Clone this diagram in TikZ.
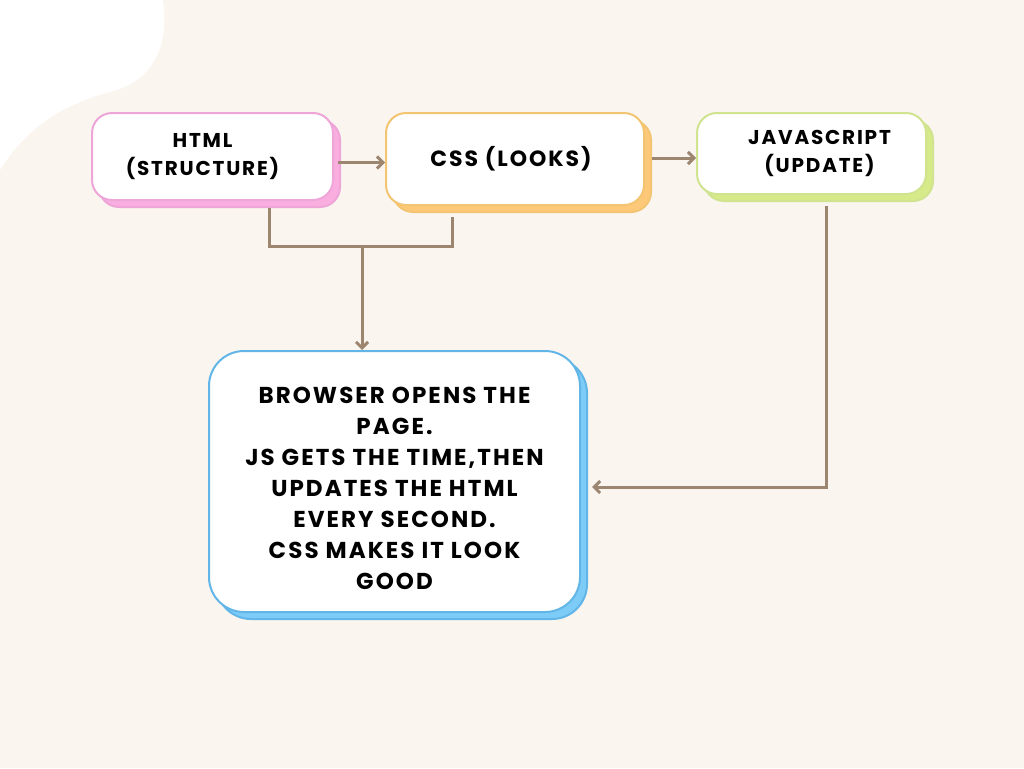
\documentclass[tikz,border=0pt]{standalone}
\usepackage{fontspec}
\usepackage{xcolor}
\usepackage{tikz}
\usetikzlibrary{positioning,calc,shadows,arrows.meta}
\newfontfamily\boxfont{Poppins}[LetterSpace=9]

\definecolor{bgcream}{HTML}{FAF5EF}
\definecolor{linkbrown}{HTML}{9C8670}
\definecolor{htmlpink}{HTML}{EEA6D8}
\definecolor{htmlshade}{HTML}{F9AEDF}
\definecolor{cssorange}{HTML}{F3C572}
\definecolor{cssshade}{HTML}{FDC979}
\definecolor{jsgreen}{HTML}{D0E38F}
\definecolor{jsshade}{HTML}{D6EA8A}
\definecolor{browserblue}{HTML}{62B6E7}
\definecolor{browsershade}{HTML}{7DCCF8}

\begin{document}
\begin{tikzpicture}[x=1pt,y=-1pt,
    box/.style 2 args={draw=#1, line width=2pt, fill=white, rounded corners=20pt,
        align=center, inner sep=0pt,
        drop shadow={shadow xshift=7pt, shadow yshift=-7pt, fill=#2, draw=#1, opacity=1},
        font={\boxfont\bfseries\fontsize{20}{28}\selectfont}},
    link/.style={draw=linkbrown, line width=3pt, -{Straight Barb[length=6pt,width=12pt]}},
    plainlink/.style={draw=linkbrown, line width=3pt}]
    \useasboundingbox (0,0) rectangle (1024,768);

    % background and white blob
    \fill[bgcream] (0,0) rectangle (1024,768);
    \fill[white] (0,0) -- (163,0) .. controls (170,50) and (150,82) .. (110,92)
        .. controls (60,105) and (25,130) .. (0,170) -- cycle;

    % top row
    \node[box={htmlpink}{htmlshade}, minimum width=241pt, minimum height=87pt]
        (html) at (212.5,156.5) {HTML\hspace*{20pt}\\(STRUCTURE)\hspace*{20pt}};
    \node[box={cssorange}{cssshade}, minimum width=258pt, minimum height=92pt,
        font={\boxfont\bfseries\fontsize{22}{28}\selectfont}]
        (css) at (515,159) {CSS (LOOKS)\hspace*{8pt}};
    \node[box={jsgreen}{jsshade}, minimum width=229pt, minimum height=81pt]
        (js) at (811.5,153.5) {\hspace*{16pt}JAVASCRIPT\\\hspace*{16pt}(UPDATE)};

    % result box
    \node[box={browserblue}{browsershade}, minimum width=371pt, minimum height=261pt,
        rounded corners=35pt, font={\boxfont\bfseries\fontsize{23}{31}\selectfont}]
        (browser) at (394.5,481.5)
        {\rule{0pt}{30pt}BROWSER OPENS THE\\PAGE.\\JS GETS THE TIME,THEN\\UPDATES THE HTML\\EVERY SECOND.\\CSS MAKES IT LOOK\\GOOD};

    % arrows between the top boxes
    \draw[link] (html.east) ++(4,6) coordinate (h1) -- (h1 -| css.west);
    \draw[link] (css.east) ++(7,-1) coordinate (c1) -- (c1 -| js.west);

    % html + css join into the browser
    \coordinate (join) at (362,246);
    \draw[plainlink] (html.south) ++(56.5,7) coordinate (h2) -- (h2 |- join)
        -| ([xshift=-63pt,yshift=-11pt]css.south);
    \draw[link] (join) -- (join |- browser.north);

    % javascript feeds the browser
    \draw[link] (js.south) ++(14.5,11) |- ([xshift=11pt,yshift=-5.5pt]browser.east);
\end{tikzpicture}
\end{document}
